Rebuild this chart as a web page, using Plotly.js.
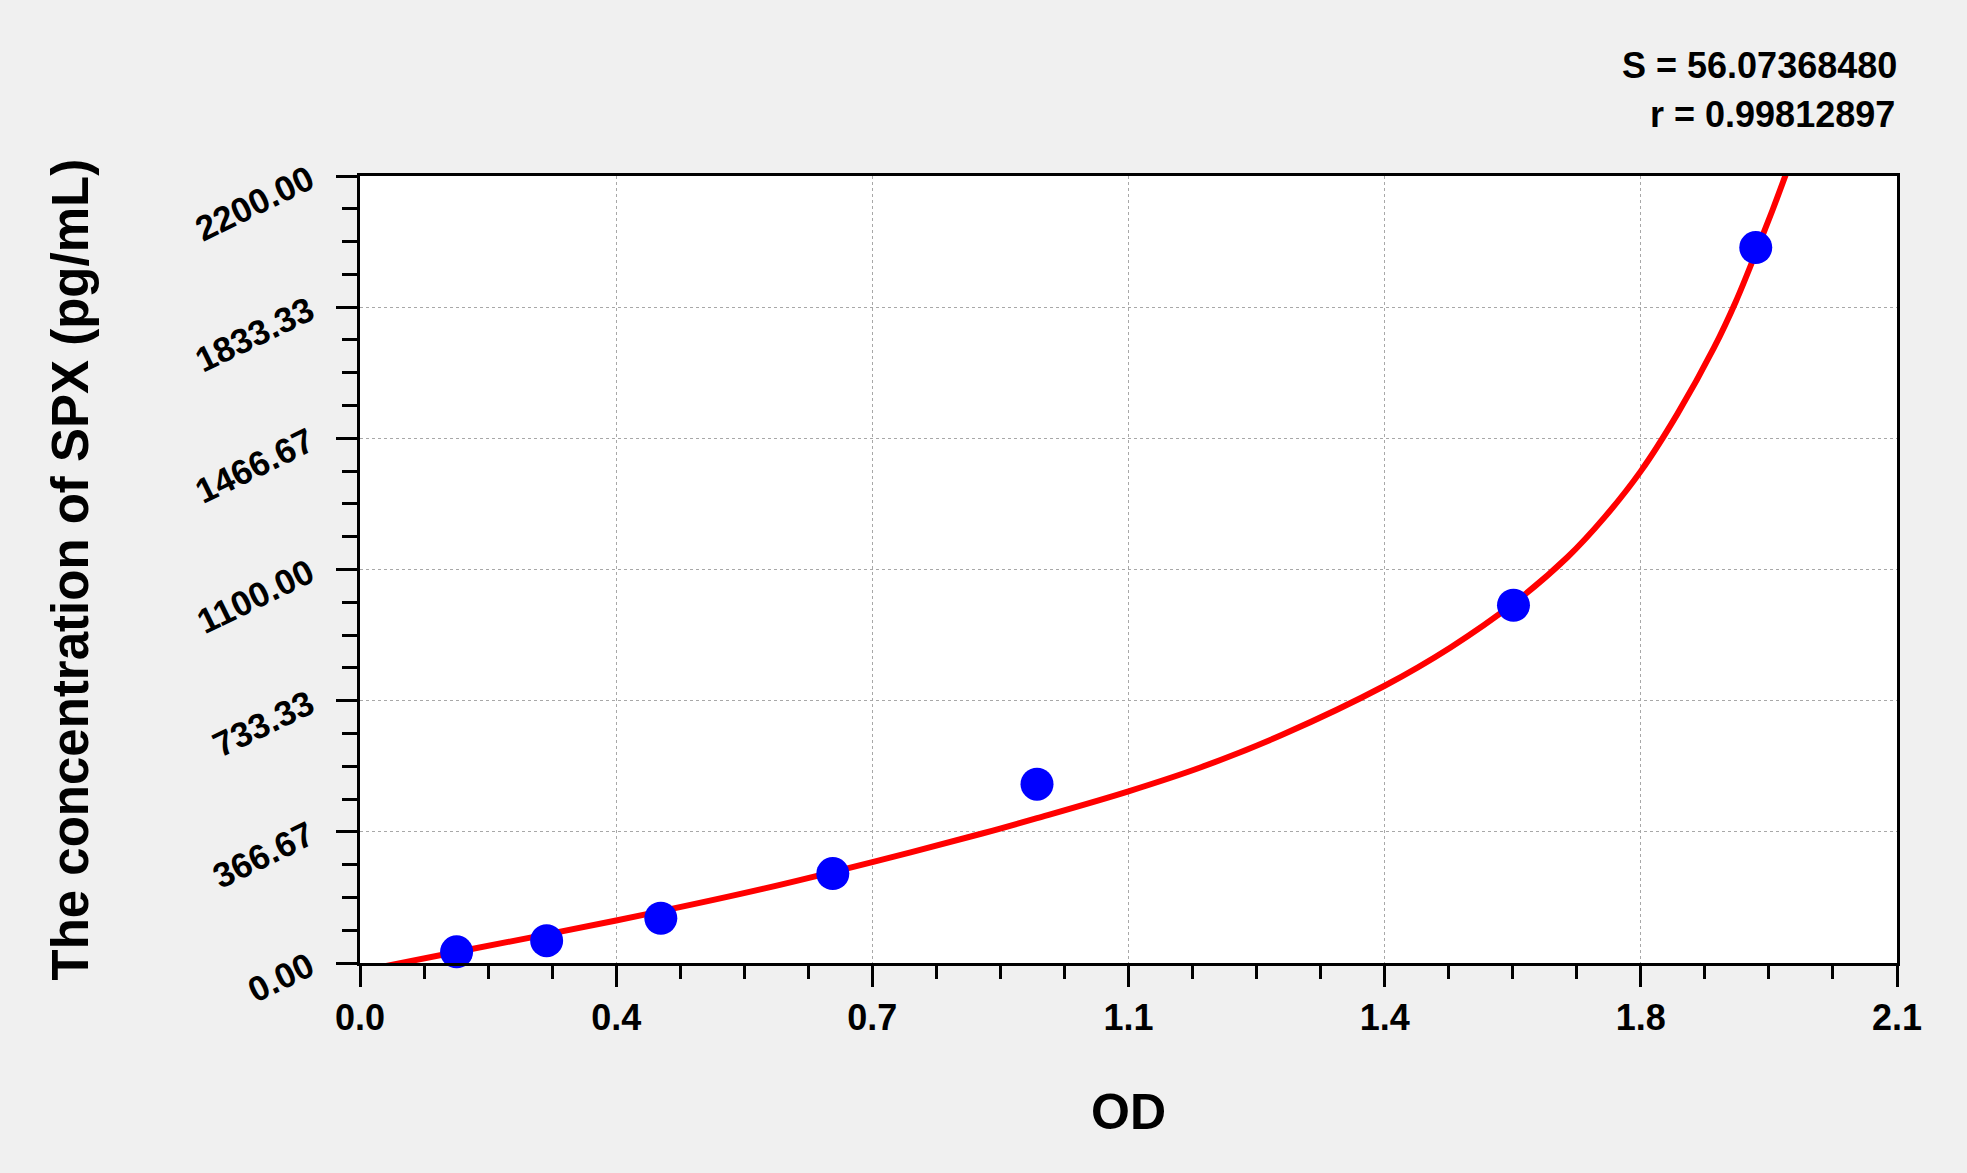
<!DOCTYPE html>
<html>
<head>
<meta charset="utf-8">
<script src="https://cdn.plot.ly/plotly-3.0.1.min.js"></script>
<style>
  html, body { margin: 0; padding: 0; background: #f0f0f0; }
  #chart { width: 1967px; height: 1173px; }
</style>
</head>
<body>
<div id="chart"></div>
<script>
// standard points (OD vs concentration)
const odValues = [0.132, 0.255, 0.411, 0.646, 0.925, 1.576, 1.907];
const concValues = [31.25, 62.5, 125, 250, 500, 1000, 2000];

// fitted curve
const curveOD = [0.036, 0.13, 0.25, 0.40, 0.55, 0.70, 0.85, 0.925, 1.05, 1.15, 1.26, 1.40, 1.49, 1.576, 1.65, 1.70, 1.75, 1.80, 1.85, 1.88, 1.907, 1.93, 1.95];
const curveConc = [-8, 30, 78, 140, 207, 282, 362, 405, 480, 548, 638, 775, 882, 1005, 1135, 1245, 1375, 1535, 1720, 1850, 1985, 2105, 2215];

// axis ticks
const xTickVals = [0, 0.35, 0.7, 1.05, 1.4, 1.75, 2.1];
const xTickText = ['0.0', '0.4', '0.7', '1.1', '1.4', '1.8', '2.1'];
const yTickVals = [0, 366.6667, 733.3333, 1100, 1466.6667, 1833.3333, 2200];
const yTickText = ['0.00', '366.67', '733.33', '1100.00', '1466.67', '1833.33', '2200.00'];

const fitStats = ['S = 56.07368480', 'r = 0.99812897'];

const font = 'Liberation Sans, Arial, sans-serif';

const points = {
    x: odValues,
    y: concValues,
    type: 'scatter',
    mode: 'markers',
    marker: { color: '#0000ff', size: 33, line: { width: 0 } },
    cliponaxis: false,
    hoverinfo: 'x+y'
};

const curve = {
    x: curveOD,
    y: curveConc,
    type: 'scatter',
    mode: 'lines',
    line: { color: '#ff0000', width: 6, shape: 'spline', smoothing: 1 },
    hoverinfo: 'skip'
};

const axisCommon = {
    showline: true,
    linecolor: '#000000',
    linewidth: 3,
    mirror: true,
    ticks: 'outside',
    ticklen: 21,
    tickwidth: 3,
    tickcolor: '#000000',
    showgrid: true,
    gridcolor: '#a8a8a8',
    gridwidth: 1,
    griddash: 'dot',
    zeroline: false,
    fixedrange: true,
    tickmode: 'array',
    tickfont: { family: font, size: 35, color: '#000000', weight: 'bold' }
};

const layout = {
    width: 1967,
    height: 1173,
    paper_bgcolor: '#f0f0f0',
    plot_bgcolor: '#ffffff',
    margin: { t: 176, b: 210, l: 360, r: 70 },
    showlegend: false,
    xaxis: {
        ...axisCommon,
        range: [0, 2.1],
        tickvals: xTickVals,
        ticktext: xTickText,
        tickfont: { family: font, size: 36, color: '#000000', weight: 'bold' },
        minor: { dtick: 0.0875, tick0: 0, ticks: 'outside', ticklen: 13, tickwidth: 3, tickcolor: '#000000', showgrid: false }
    },
    yaxis: {
        ...axisCommon,
        range: [0, 2200],
        tickvals: yTickVals,
        ticktext: yTickText,
        tickangle: -26,
        ticklabelstandoff: 20,
        minor: { dtick: 91.66667, tick0: 0, ticks: 'outside', ticklen: 15, tickwidth: 3, tickcolor: '#000000', showgrid: false }
    },
    annotations: [
        {
            text: '<b>OD</b>', xref: 'paper', yref: 'paper', x: 0.5, y: 0,
            yshift: -149, xanchor: 'center', yanchor: 'middle', showarrow: false,
            font: { family: font, size: 50, color: '#000000' }
        },
        {
            text: '<b>The concentration of SPX (pg/mL)</b>', xref: 'paper', yref: 'paper', x: 0, y: 0.5,
            xshift: -290, xanchor: 'center', yanchor: 'middle', textangle: -90, showarrow: false,
            font: { family: font, size: 51, color: '#000000' }
        },
        {
            text: '<b>' + fitStats[0] + '</b>', xref: 'paper', yref: 'paper', x: 1, y: 1,
            yshift: 111, xshift: 2, xanchor: 'right', yanchor: 'middle', showarrow: false,
            font: { family: font, size: 36, color: '#000000' }
        },
        {
            text: '<b>' + fitStats[1] + '</b>', xref: 'paper', yref: 'paper', x: 1, y: 1,
            yshift: 62, xshift: 0, xanchor: 'right', yanchor: 'middle', showarrow: false,
            font: { family: font, size: 36, color: '#000000' }
        }
    ]
};

Plotly.newPlot('chart', [curve, points], layout, { displayModeBar: false, responsive: false });
</script>
</body>
</html>
